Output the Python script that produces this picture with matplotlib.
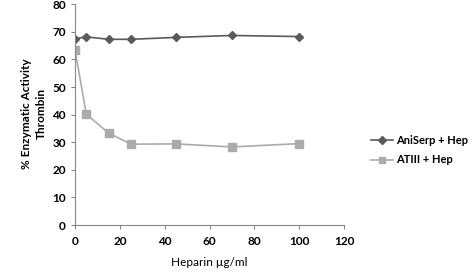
import matplotlib.pyplot as plt

heparin = [0, 5, 15, 25, 45, 70, 100]
aniserp = [67.5, 68.2, 67.3, 67.3, 68.0, 68.7, 68.3]
atiii = [63.5, 40.2, 33.3, 29.3, 29.4, 28.3, 29.5]

plt.rcParams["font.family"] = ["Lato", "DejaVu Sans"]

fig = plt.figure(figsize=(4.73, 2.78), dpi=100)
ax = fig.add_axes([0.1586, 0.1906, 0.5687, 0.794])

ax.plot(heparin, aniserp, color="#5a5a5a", lw=1.2, marker="D", ms=4.5,
        label="AniSerp + Hep")
ax.plot(heparin, atiii, color="#ababab", lw=1.2, marker="s", ms=6,
        label="ATIII + Hep")

ax.set_xlim(0, 120)
ax.set_ylim(0, 80)
ax.set_xticks(range(0, 121, 20))
ax.set_yticks(range(0, 81, 10))
for s in ["top", "right"]:
    ax.spines[s].set_visible(False)
for s in ["left", "bottom"]:
    ax.spines[s].set_color("#888888")
ax.tick_params(colors="#888888", labelcolor="black", length=3, labelsize=8.5)
for lab in ax.get_xticklabels() + ax.get_yticklabels():
    lab.set_fontweight("bold")
ax.xaxis.set_tick_params(pad=5)

ax.set_xlabel("Heparin µg/ml", fontsize=8.5, labelpad=7)
# two-line y title, each line centred on the same height
fig.text(0.055, 0.59, "% Enzymatic Activity", fontsize=8.5,
         fontweight="bold", rotation=90, ha="center", va="center")
fig.text(0.088, 0.59, "Thrombin", fontsize=8.5,
         fontweight="bold", rotation=90, ha="center", va="center")

ax.legend(loc="center left", bbox_to_anchor=(1.1, 0.34), frameon=False,
          prop={"weight": "bold", "size": 8}, handlelength=2.0,
          labelspacing=0.8, handletextpad=0.3, borderaxespad=0, borderpad=0,
          markerscale=0.8)

fig.savefig("out.png", dpi=100)
